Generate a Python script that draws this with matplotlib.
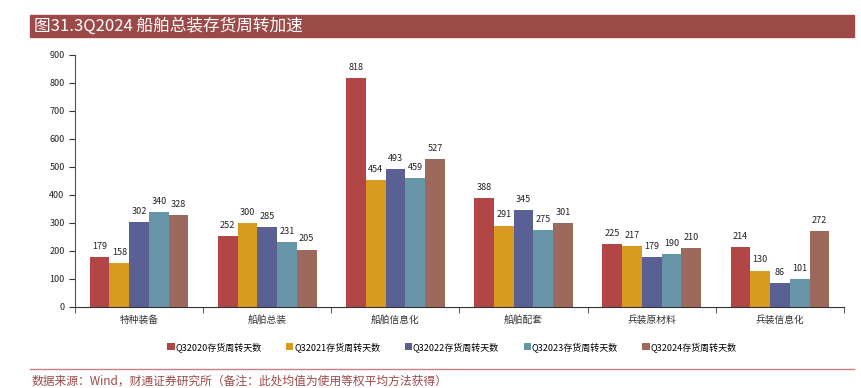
import numpy as np
import matplotlib
matplotlib.use("Agg")
import matplotlib.pyplot as plt
from matplotlib.patches import Rectangle

plt.rcParams['font.family'] = ['Noto Sans CJK SC', 'DejaVu Sans']

categories = ['特种装备', '船舶总装', '船舶信息化', '船舶配套', '兵装原材料', '兵装信息化']
series_names = ['Q32020存货周转天数', 'Q32021存货周转天数', 'Q32022存货周转天数',
                'Q32023存货周转天数', 'Q32024存货周转天数']
q2020 = [179, 252, 818, 388, 225, 214]
q2021 = [158, 300, 454, 291, 217, 130]
q2022 = [302, 285, 493, 345, 179, 86]
q2023 = [340, 231, 459, 275, 190, 101]
q2024 = [328, 205, 527, 301, 210, 272]
series = [q2020, q2021, q2022, q2023, q2024]
colors = ['#B24646', '#D99A22', '#5A5F94', '#6795A8', '#9B6A5C']

W, H = 862, 388
fig = plt.figure(figsize=(W / 100, H / 100), dpi=100)

# title banner
fig.patches.append(Rectangle((30 / W, 1 - 37 / H), 824 / W, 22 / H,
                             transform=fig.transFigure, color='#9B4A48', zorder=0))
fig.text(34 / W, 1 - 26 / H, '图31.3Q2024 船舶总装存货周转加速', color='white',
         fontsize=12, va='center', ha='left')

ax = fig.add_axes([75 / W, 1 - 307 / H, 769 / W, 252 / H])
x = np.arange(len(categories))
bw = 0.154
for i, (vals, c) in enumerate(zip(series, colors)):
    pos = x + (i - 2) * bw
    ax.bar(pos, vals, bw, color=c, label=series_names[i], zorder=2)
    for p, v in zip(pos, vals):
        ax.text(p, v + 22, str(v), ha='center', va='bottom', fontsize=6.5, color='#222222')

ax.set_xlim(-0.5, len(categories) - 0.5)
ax.set_ylim(0, 900)
ax.set_yticks(range(0, 901, 100))
ax.set_xticks(x)
ax.set_xticklabels(categories, fontsize=7, color='#333333')
ax.set_xticks(np.arange(-0.5, len(categories), 1), minor=True)
ax.tick_params(axis='x', which='major', length=0, pad=6)
ax.tick_params(axis='x', which='minor', length=4, direction='out', color='#333333')
ax.tick_params(axis='y', labelsize=6.5, length=4, direction='out', color='#333333',
               labelcolor='#222222')
for s in ['top', 'right']:
    ax.spines[s].set_visible(False)
ax.spines['left'].set_color('#555555')
ax.spines['bottom'].set_color('#333333')

handles, labels = ax.get_legend_handles_labels()
fig.legend(handles, labels, loc='center', bbox_to_anchor=(452 / W, 1 - 347 / H), ncol=5,
           frameon=False, fontsize=6.5, handlelength=0.8, handleheight=0.8,
           handletextpad=0.1, columnspacing=2.7)

# footer line and source
fig.add_artist(plt.Line2D([30 / W, 854 / W], [1 - 369 / H, 1 - 369 / H],
                          transform=fig.transFigure, color='#C98080', lw=1))
fig.text(32 / W, 1 - 381 / H, '数据来源：Wind，财通证券研究所（备注：此处均值为使用等权平均方法获得）',
         color='#9B4A48', fontsize=8.5, va='center', ha='left')

fig.savefig('out.png', dpi=100)
